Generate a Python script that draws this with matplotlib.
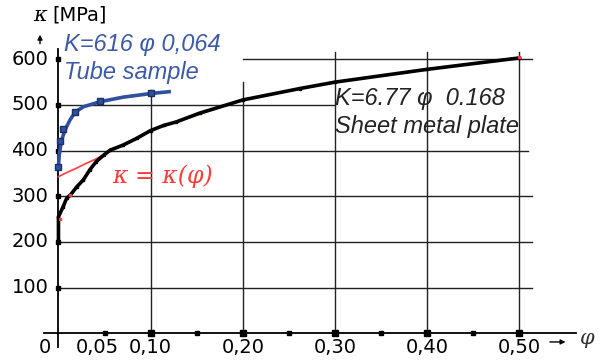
import matplotlib
matplotlib.use("Agg")
import matplotlib.pyplot as plt

# black curve: sheet metal plate
phi_sheet = [0, 0, 0.005, 0.009, 0.013, 0.020, 0.027, 0.034, 0.041, 0.049, 0.056,
             0.070, 0.085, 0.10, 0.114, 0.128, 0.153, 0.20, 0.262, 0.30, 0.40, 0.50]
kap_sheet = [199, 255, 277, 296, 303, 321, 336, 358, 376, 390, 401,
             412, 427, 444, 455, 463, 482, 511, 536, 550, 578, 603]
# blue curve: tube sample
phi_tube = [0, 0.001, 0.0035, 0.007, 0.0125, 0.018, 0.027, 0.045, 0.07, 0.10, 0.12]
kap_tube = [365, 395, 423, 445, 467, 484, 496, 507, 517, 525, 529]
phi_tube_pts = [0, 0.002, 0.005, 0.018, 0.045, 0.10]
kap_tube_pts = [365, 420, 447, 484, 508, 526]
# red fitted curve kappa = kappa(phi)
phi_fit = [0, 0.01, 0.02, 0.03, 0.04, 0.05, 0.10, 0.20, 0.30, 0.40, 0.50]
kap_fit = [343, 353, 362, 372, 381, 392, 444, 511, 550, 578, 603]
phi_fit_pts = [0.002, 0.012, 0.50]
kap_fit_pts = [250, 303, 606]

yticks = [100, 200, 300, 400, 500, 600]
xticks_major = [0.10, 0.20, 0.30, 0.40, 0.50]
xticks_minor = [0.05, 0.15, 0.25, 0.35, 0.45]
xlabels = {0.05: "0,05", 0.10: "0,10", 0.20: "0,20", 0.30: "0,30", 0.40: "0,40", 0.50: "0,50"}

BLUE, RED, GRID = "#2f4f9f", "#ff3b3b", "#222222"
TXTBLUE = "#3c5aa6"

fig = plt.figure(figsize=(6.07, 3.61), dpi=100)
ax = fig.add_axes([0, 0, 1, 1])
ax.set_xlim(-0.0634, 0.5949)
ax.set_ylim(-60.7, 729.8)
ax.axis("off")

# partial grid
for k in (100, 200, 300):
    ax.plot([0, 0.514], [k, k], color=GRID, lw=1, zorder=1)
ax.plot([0, 0.509], [400, 400], color=GRID, lw=1, zorder=1)
ax.plot([0, 0.30], [500, 500], color=GRID, lw=1, zorder=1)
ax.plot([0.20, 0.514], [600, 600], color=GRID, lw=1, zorder=1)
ax.plot([0.10, 0.10], [0, 533], color=GRID, lw=1, zorder=1)
ax.plot([0.20, 0.20], [0, 550], color=GRID, lw=1, zorder=1)
for p in (0.30, 0.40, 0.50):
    ax.plot([p, p], [0, 616], color=GRID, lw=1, zorder=1)

# axes lines and arrows
ax.plot([0, 0], [-30, 623], color="black", lw=1.3, zorder=2)
ax.plot([-0.016, 0.561], [0, 0], color="black", lw=1.3, zorder=2)
ax.annotate("", xy=(-0.020, 660), xytext=(-0.020, 628),
            arrowprops=dict(arrowstyle="-|>", color="black", lw=1, mutation_scale=7))
ax.annotate("", xy=(0.553, -19), xytext=(0.530, -19),
            arrowprops=dict(arrowstyle="-|>", color="black", lw=1, mutation_scale=7))

# tick squares
ax.plot([0] * len(yticks), yticks, "s", color="black", ms=3.5, zorder=3)
ax.plot(xticks_major, [0] * len(xticks_major), "s", color="black", ms=4, zorder=3)
ax.plot(xticks_minor, [0] * len(xticks_minor), "s", color="black", ms=2.8, zorder=3)

for k in yticks:
    ax.text(-0.011, k, str(k), ha="right", va="center", fontsize=14, family="DejaVu Sans")
ax.text(-0.015, -31, "0", ha="center", va="center", fontsize=14, family="DejaVu Sans")
for p, lab in xlabels.items():
    dx = -0.008 if p == 0.05 else 0
    ax.text(p + dx, -31, lab, ha="center", va="center", fontsize=14, family="DejaVu Sans")

ax.text(-0.020, 695, "κ", ha="center", va="center", fontsize=15,
        family="DejaVu Serif", style="italic")
ax.text(-0.007, 696, "[MPa]", ha="left", va="center", fontsize=14, family="DejaVu Sans")
ax.text(0.574, -12, "φ", ha="center", va="center", fontsize=15,
        family="DejaVu Serif", style="italic", color="#333333")

# curves
ax.plot(phi_fit, kap_fit, color=RED, lw=1.2, zorder=4)
ax.plot(phi_sheet, kap_sheet, color="black", lw=2.6, marker="s", ms=1.8, zorder=5)
ax.plot(phi_fit_pts, kap_fit_pts, "s", color=RED, ms=2, zorder=6)
ax.plot(phi_tube, kap_tube, color=BLUE, lw=2.6, zorder=5)
ax.plot(phi_tube_pts, kap_tube_pts, "s", color=BLUE, mec="#1a2f66", ms=5, zorder=6)

# annotations
ax.text(0.006, 633, "K=616 φ 0,064", color=TXTBLUE, fontsize=17, style="italic",
        family="Liberation Sans", ha="left", va="center")
ax.text(0.006, 572, "Tube sample", color=TXTBLUE, fontsize=17, style="italic",
        family="Liberation Sans", ha="left", va="center")
ax.text(0.300, 514, "K=6.77 φ  0.168", color="#222222", fontsize=17, style="italic",
        family="Liberation Sans", ha="left", va="center")
ax.text(0.300, 452, "Sheet metal plate", color="#222222", fontsize=17, style="italic",
        family="Liberation Sans", ha="left", va="center")
ax.text(0.058, 344, "κ = κ(φ)", color=RED, fontsize=17, style="italic",
        family="DejaVu Serif", ha="left", va="center")

fig.savefig("out.png", dpi=100)
